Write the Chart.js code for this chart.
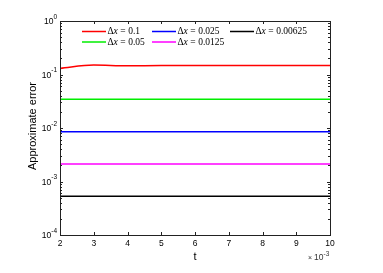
<!DOCTYPE html>
<html>
<head>
<meta charset="utf-8">
<script src="https://cdn.jsdelivr.net/npm/chart.js@4"></script>
<style>
  body { margin: 0; background: #fff; }
  #wrap { width: 383px; height: 273px; }
</style>
</head>
<body>
<div id="wrap"><canvas id="c"></canvas></div>
<script>
// t values (x 10^-3)
const times = [2, 3, 4, 5, 6, 7, 8, 9, 10];
const err01 = [0.130, 0.150, 0.146, 0.147, 0.147, 0.147, 0.147, 0.147, 0.147];
const err005 = [0.0343, 0.0343, 0.0343, 0.0343, 0.0343, 0.0343, 0.0343, 0.0343, 0.0343];
const err0025 = [0.0085, 0.0085, 0.0085, 0.0085, 0.0085, 0.0085, 0.0085, 0.0085, 0.0085];
const err00125 = [0.00212, 0.00212, 0.00212, 0.00212, 0.00212, 0.00212, 0.00212, 0.00212, 0.00212];
const err000625 = [0.00053, 0.00053, 0.00053, 0.00053, 0.00053, 0.00053, 0.00053, 0.00053, 0.00053];
const dxLabels = ['0.1', '0.05', '0.025', '0.0125', '0.00625'];
const colors = ['#ff0000', '#00ee00', '#0000ff', '#ff00ff', '#000000'];
const xTicks = [2, 3, 4, 5, 6, 7, 8, 9, 10];
const yExps = [0, -1, -2, -3, -4];

const series = [err01, err005, err0025, err00125, err000625];

function makeDataset(vals, i) {
  return {
    label: 'Δx = ' + dxLabels[i],
    data: vals.map((v, k) => ({ x: times[k], y: v })),
    borderColor: colors[i],
    borderWidth: 1.5,
    pointRadius: 0,
    cubicInterpolationMode: 'monotone',
    fill: false
  };
}

// axes box, inward ticks, labels and legend, matlab style
const matlabAxes = {
  id: 'matlabAxes',
  afterDraw(chart) {
    const ctx = chart.ctx;
    const a = chart.chartArea;
    const xs = chart.scales.x, ys = chart.scales.y;
    ctx.save();
    ctx.strokeStyle = '#222';
    ctx.lineWidth = 1;
    ctx.strokeRect(Math.round(a.left) + 0.5, Math.round(a.top) + 0.5,
      Math.round(a.right - a.left), Math.round(a.bottom - a.top));

    ctx.beginPath();
    xTicks.forEach(t => {
      const px = Math.round(xs.getPixelForValue(t)) + 0.5;
      ctx.moveTo(px, a.bottom); ctx.lineTo(px, a.bottom - 3);
      ctx.moveTo(px, a.top); ctx.lineTo(px, a.top + 3);
    });
    yExps.forEach(e => {
      const py = Math.round(ys.getPixelForValue(Math.pow(10, e))) + 0.5;
      ctx.moveTo(a.left, py); ctx.lineTo(a.left + 3, py);
      ctx.moveTo(a.right, py); ctx.lineTo(a.right - 3, py);
      if (e > -4) {
        for (let m = 2; m <= 9; m++) {
          const pm = Math.round(ys.getPixelForValue(m * Math.pow(10, e - 1))) + 0.5;
          ctx.moveTo(a.left, pm); ctx.lineTo(a.left + 2, pm);
          ctx.moveTo(a.right, pm); ctx.lineTo(a.right - 2, pm);
        }
      }
    });
    ctx.stroke();

    // tick labels
    ctx.fillStyle = '#000';
    ctx.font = '8.5px "Liberation Sans", Arial, sans-serif';
    ctx.textAlign = 'center';
    ctx.textBaseline = 'top';
    xTicks.forEach(t => {
      ctx.fillText(String(t), xs.getPixelForValue(t), a.bottom + 4);
    });
    yExps.forEach(e => {
      const py = ys.getPixelForValue(Math.pow(10, e));
      const exp = e === 0 ? '0' : '-' + Math.abs(e);
      ctx.font = '6.5px "Liberation Sans", Arial, sans-serif';
      const ew = ctx.measureText(exp).width;
      ctx.textAlign = 'left';
      ctx.textBaseline = 'middle';
      ctx.fillText(exp, a.left - 3 - ew, py - 4);
      ctx.font = '8.5px "Liberation Sans", Arial, sans-serif';
      ctx.textAlign = 'right';
      ctx.fillText('10', a.left - 3 - ew, py + 1);
    });

    // axis titles
    ctx.font = '11px "Liberation Sans", Arial, sans-serif';
    ctx.textAlign = 'center';
    ctx.textBaseline = 'middle';
    ctx.fillText('t', (a.left + a.right) / 2, a.bottom + 22);
    ctx.save();
    ctx.translate(33, (a.top + a.bottom) / 2 - 2);
    ctx.rotate(-Math.PI / 2);
    ctx.fillText('Approximate error', 0, 0);
    ctx.restore();

    // x10^-3 multiplier
    ctx.fillStyle = '#333';
    ctx.font = '7px "Liberation Sans", Arial, sans-serif';
    ctx.textAlign = 'left';
    ctx.fillText('×', a.right - 22, a.bottom + 23);
    ctx.font = '8.5px "Liberation Sans", Arial, sans-serif';
    ctx.fillText('10', a.right - 16, a.bottom + 23);
    ctx.font = '6.5px "Liberation Sans", Arial, sans-serif';
    ctx.fillText('-3', a.right - 6.5, a.bottom + 19);

    // legend inside plot
    const slots = [[22, 10.5], [22, 21], [92, 10.5], [92, 21], [170, 10.5]];
    chart.data.datasets.forEach((ds, i) => {
      const cx = a.left + slots[i][0];
      const cy = a.top + slots[i][1];
      ctx.strokeStyle = ds.borderColor;
      ctx.lineWidth = 1.5;
      ctx.beginPath();
      ctx.moveTo(cx, cy); ctx.lineTo(cx + 24, cy);
      ctx.stroke();
      ctx.fillStyle = '#000';
      ctx.textAlign = 'left';
      ctx.textBaseline = 'middle';
      let tx = cx + 25.5;
      ctx.font = '9.5px "Liberation Serif", "DejaVu Serif", serif';
      ctx.fillText('Δ', tx, cy); tx += ctx.measureText('Δ').width;
      ctx.font = 'italic 9.5px "Liberation Serif", "DejaVu Serif", serif';
      ctx.fillText('x', tx, cy); tx += ctx.measureText('x').width + 2.5;
      ctx.font = '9.5px "Liberation Serif", "DejaVu Serif", serif';
      ctx.fillText('=', tx, cy); tx += ctx.measureText('=').width + 2.5;
      ctx.fillText(dxLabels[i], tx, cy);
    });
    ctx.restore();
  }
};

new Chart(document.getElementById('c'), {
  type: 'line',
  data: { datasets: series.map(makeDataset) },
  options: {
    responsive: true,
    maintainAspectRatio: false,
    animation: false,
    layout: { padding: { left: 60, right: 53, top: 21, bottom: 38 } },
    plugins: { legend: { display: false }, tooltip: { enabled: false } },
    scales: {
      x: {
        type: 'linear', min: 2, max: 10,
        grid: { display: false, drawTicks: false },
        border: { display: false },
        ticks: { display: false }
      },
      y: {
        type: 'logarithmic', min: 1e-4, max: 1,
        grid: { display: false, drawTicks: false },
        border: { display: false },
        ticks: { display: false }
      }
    }
  },
  plugins: [matlabAxes]
});
</script>
</body>
</html>
